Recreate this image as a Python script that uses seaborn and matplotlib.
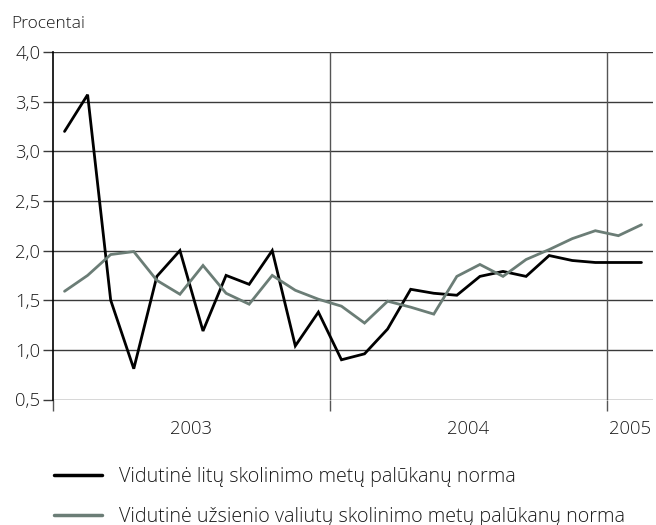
import matplotlib
matplotlib.use("Agg")
import matplotlib.pyplot as plt
import seaborn as sns
import pandas as pd
import numpy as np
from matplotlib.lines import Line2D
from matplotlib.ticker import FixedLocator, FuncFormatter

sns.set_theme(style="white")
plt.rcParams['font.family'] = ['Open Sans', 'DejaVu Sans']

months = list(range(26))  # Jan 2003 .. Feb 2005
litu = [3.20, 3.57, 1.50, 0.81, 1.74, 2.00, 1.19, 1.75, 1.66, 2.00, 1.04, 1.38,
        0.90, 0.96, 1.21, 1.61, 1.57, 1.55, 1.74, 1.79, 1.74, 1.95, 1.90, 1.88,
        1.88, 1.88]
uzsienio = [1.59, 1.75, 1.96, 1.99, 1.70, 1.56, 1.85, 1.57, 1.46, 1.75, 1.60, 1.51,
            1.44, 1.27, 1.49, 1.43, 1.36, 1.74, 1.86, 1.74, 1.91, 2.01, 2.12, 2.20,
            2.15, 2.26]
series_names = ["Vidutinė litų skolinimo metų palūkanų norma",
                "Vidutinė užsienio valiutų skolinimo metų palūkanų norma"]
year_labels = ["2003", "2004", "2005"]
y_ticks = [0.5, 1.0, 1.5, 2.0, 2.5, 3.0, 3.5, 4.0]

colors = ["#000000", "#6b7d76"]

df = pd.DataFrame({
    "x": [m + 0.5 for m in months] * 2,
    "value": litu + uzsienio,
    "series": [series_names[0]] * len(months) + [series_names[1]] * len(months),
})

fig = plt.figure(figsize=(6.56, 5.25), dpi=100)
ax = fig.add_axes([53/656, 1 - 399.5/525, 600/656, 347.5/525])

sns.lineplot(data=df, x="x", y="value", hue="series", palette=colors,
             linewidth=2.0, ax=ax, legend=False)
for ln in ax.lines:
    ln.set_solid_joinstyle('miter')

ax.set_xlim(0, 26)
ax.set_ylim(0.5, 4.0)
ax.set_xlabel("")
ax.set_ylabel("")

# grid
for yv in y_ticks:
    ax.axhline(yv, color="#3a3a3a", linewidth=1.0, zorder=0.5)
for xv in [12, 24]:
    ax.axvline(xv, color="#555555", linewidth=1.0, zorder=0.5)

for s in ["top", "right", "bottom"]:
    ax.spines[s].set_visible(False)
ax.spines["left"].set_color("#000000")
ax.spines["left"].set_linewidth(1.2)

ax.set_yticks(y_ticks)
ax.yaxis.set_major_formatter(FuncFormatter(lambda v, p: f"{v:.1f}".replace(".", ",")))
ax.tick_params(axis="y", which="major", length=7, width=1.0, color="#3a3a3a",
               labelsize=13.3, pad=2, left=True, labelcolor="#1a1a1a")
for lab in ax.get_yticklabels():
    lab.set_fontweight("light")

ax.xaxis.set_major_locator(FixedLocator([0, 12, 24]))
ax.xaxis.set_major_formatter(FuncFormatter(lambda v, p: ""))
ax.xaxis.set_minor_locator(FixedLocator([6, 18, 25]))
ax.set_xticklabels(year_labels, minor=True, fontweight="light")
ax.tick_params(axis="x", which="major", length=8, width=1.0, color="#555555", bottom=True)
ax.tick_params(axis="x", which="minor", length=0, labelsize=13.3, pad=15, labelcolor="#1a1a1a")

fig.text(11/656, 1 - 24/525, "Procentai", fontsize=12.5, fontweight="light",
         color="#1a1a1a", va="center", ha="left")

handles = [Line2D([0], [0], color=c, linewidth=2.5) for c in colors]
leg = fig.legend(handles, series_names, loc="upper left", bbox_to_anchor=(36/656, 1 - 449/525),
                 frameon=False, fontsize=14.2, handlelength=2.45, handletextpad=0.85,
                 labelspacing=1.0, labelcolor="#1a1a1a")
for t in leg.get_texts():
    t.set_fontweight("light")

fig.savefig("out.png", dpi=100)
